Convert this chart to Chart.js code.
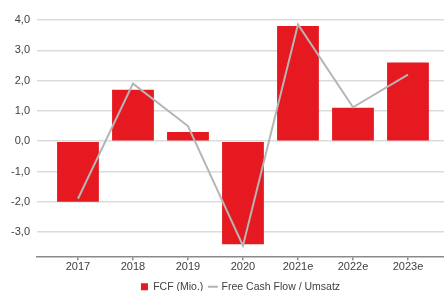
<!DOCTYPE html>
<html><head><meta charset="utf-8">
<script src="https://cdn.jsdelivr.net/npm/chart.js@4/dist/chart.umd.min.js"></script>
<style>html,body{margin:0;padding:0;background:#fff}#wrap{width:444px;height:291px}</style>
</head><body><div id="wrap"><canvas id="c"></canvas></div>
<script>
const categories = ['2017','2018','2019','2020','2021e','2022e','2023e'];
const fcfMio = [-2.0, 1.7, 0.3, -3.4, 3.8, 1.1, 2.6];
const fcfUmsatz = [-1.9, 1.9, 0.5, -3.45, 3.85, 1.12, 2.2];
const yTicks = [-3, -2, -1, 0, 1, 2, 3, 4];

const txt = '#404040';
Chart.defaults.font.family = '"Liberation Sans", Arial, sans-serif';
Chart.defaults.font.size = 11;
Chart.defaults.color = txt;

new Chart(document.getElementById('c'), {
  type: 'bar',
  data: {
    datasets: [
      { type: 'bar', label: 'FCF (Mio.)', data: fcfMio.map((v,i)=>({x:i,y:v})),
        backgroundColor: '#e5191f', borderWidth: 0, barPercentage: 0.95, categoryPercentage: 0.8,
        order: 2, pointStyle: 'rect' },
      { type: 'line', label: 'Free Cash Flow / Umsatz', data: fcfUmsatz.map((v,i)=>({x:i,y:v})),
        borderColor: '#b5b5b5', backgroundColor: '#b5b5b5', borderWidth: 2, pointRadius: 0,
        tension: 0, order: 1, pointStyle: 'line' }
    ]
  },
  options: {
    responsive: true, maintainAspectRatio: false, animation: false,
    layout: { padding: { top: 20, right: 0, left: 0, bottom: -11 } },
    plugins: {
      tooltip: { enabled: false },
      legend: {
        position: 'bottom', fullSize: false,
        labels: { usePointStyle: true, boxHeight: 7, boxWidth: 7, padding: 6, color: txt,
          sort: (a,b) => a.datasetIndex - b.datasetIndex, font: { size: 10.5 } }
      }
    },
    scales: {
      x: {
        type: 'linear', min: -0.745, max: 6.655, offset: false,
        afterBuildTicks: s => { s.ticks = categories.map((c,i)=>({value:i})); },
        afterFit: s => { s.height += 2; },
        ticks: { callback: (v) => categories[v] ?? '', padding: 0, maxRotation: 0, autoSkip: false },
        grid: { offset: false, drawOnChartArea: false, drawTicks: true, tickLength: 4, color: '#8a8a8a', lineWidth: 1.5 },
        border: { display: true, color: '#8a8a8a', width: 1.5 }
      },
      y: {
        min: -3.8, max: 4.0,
        afterBuildTicks: s => { s.ticks = yTicks.map(v=>({value:v})); },
        afterFit: s => { s.width = 37; },
        ticks: { callback: v => v.toFixed(1).replace('.', ','), padding: 7 },
        grid: { color: '#dcdcdc', lineWidth: 1.5, drawTicks: false },
        border: { display: false }
      }
    }
  }
});
</script></body></html>
